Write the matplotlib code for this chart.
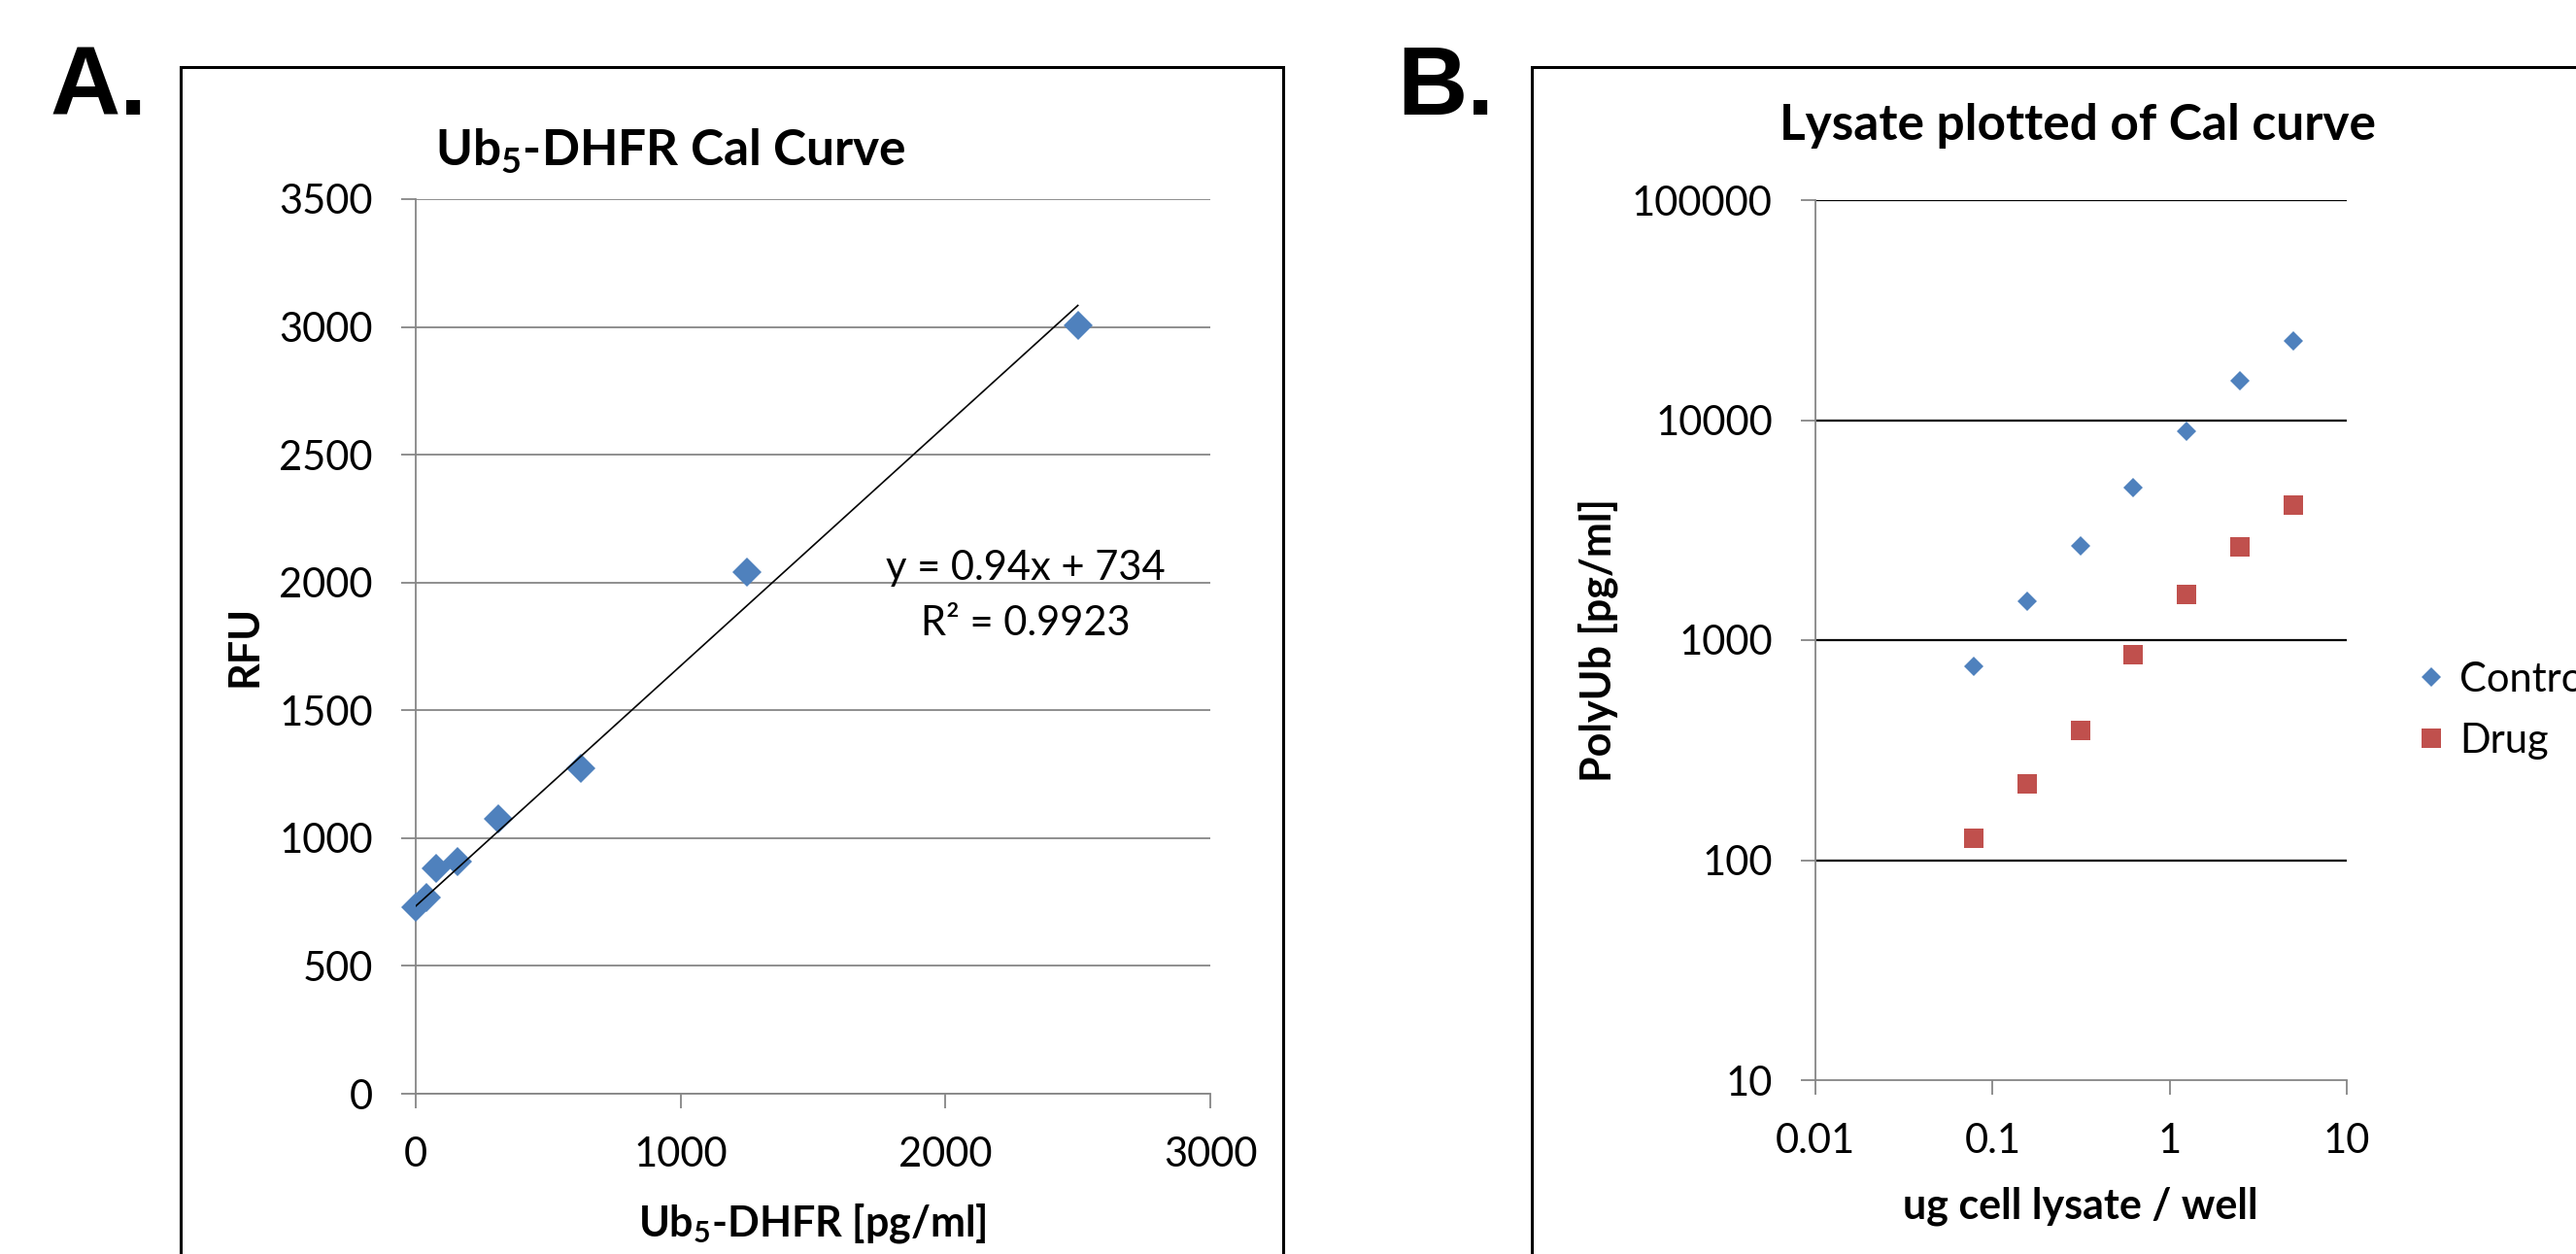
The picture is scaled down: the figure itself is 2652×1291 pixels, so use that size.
import matplotlib.pyplot as plt
from matplotlib.patches import Rectangle
from matplotlib.ticker import FixedLocator, NullLocator

plt.rcParams['font.family'] = ['Lato', 'DejaVu Sans']
plt.rcParams['mathtext.default'] = 'regular'

# --- Panel A: calibration curve ---
cal_conc = [0, 39, 78, 156, 312.5, 625, 1250, 2500]
cal_rfu = [730, 767, 882, 910, 1076, 1273, 2040, 3005]
fit_slope = 0.94
fit_intercept = 734
fit_r2 = 0.9923
fit_range = [0, 2500]

# --- Panel B: lysate on cal curve ---
lysate_ug = [0.078, 0.156, 0.3125, 0.625, 1.25, 2.5, 5]
control_pg = [760, 1506, 2687, 4930, 8920, 15170, 23000]
drug_pg = [126, 221, 388, 855, 1610, 2665, 4105]

a_xticks = [0, 1000, 2000, 3000]
a_yticks = [0, 500, 1000, 1500, 2000, 2500, 3000, 3500]
b_xticks = [0.01, 0.1, 1, 10]
b_xticklabels = ['0.01', '0.1', '1', '10']
b_yticks = [10, 100, 1000, 10000, 100000]
b_yticklabels = ['10', '100', '1000', '10000', '100000']

BLUE = '#4F81BD'
RED = '#C0504D'
GRAY = '#868686'

W, H = 2652, 1291
fig = plt.figure(figsize=(W / 100, H / 100), dpi=100)


def fx(px):
    return px / W


def fy(py):
    return 1 - py / H


def style_axes(ax):
    for s in ['top', 'right']:
        ax.spines[s].set_visible(False)
    for s in ['left', 'bottom']:
        ax.spines[s].set_color(GRAY)
        ax.spines[s].set_linewidth(1.3)
    ax.tick_params(which='major', direction='out', length=10.8, width=1.3,
                   color=GRAY, labelsize=30)
    ax.tick_params(axis='y', pad=21)
    ax.tick_params(axis='x', pad=21)
    ax.tick_params(which='minor', length=0)
    ax.set_axisbelow(True)


# frames around panels
fig.add_artist(Rectangle((fx(186), -0.1), fx(1321) - fx(186), fy(69) + 0.1,
                         transform=fig.transFigure, fill=False, lw=2.2, ec='black'))
fig.add_artist(Rectangle((fx(1577), -0.1), 0.5, fy(69) + 0.1,
                         transform=fig.transFigure, fill=False, lw=2.2, ec='black'))

# panel letters
fig.text(fx(52), fy(118), 'A.', fontsize=72, fontweight='bold',
         family='Liberation Sans', va='baseline', ha='left')
fig.text(fx(1438), fy(118), 'B.', fontsize=72, fontweight='bold',
         family='Liberation Sans', va='baseline', ha='left')

# ---------- Panel A ----------
axA = fig.add_axes([fx(428), fy(1126), fx(1246) - fx(428), fy(205) - fy(1126)])
style_axes(axA)
axA.set_xlim(0, 3000)
axA.set_ylim(0, 3500)
axA.set_xticks(a_xticks)
axA.set_yticks(a_yticks)
axA.grid(axis='y', color=GRAY, lw=1.3)
axA.plot(cal_conc, cal_rfu, 'D', color=BLUE, markersize=15, markeredgewidth=0,
         zorder=3, clip_on=False)
fit_y = [fit_slope * x + fit_intercept for x in fit_range]
axA.plot(fit_range, fit_y, color='black', lw=1.2, zorder=4)
axA.text(2303, 2056, f'y = {fit_slope}x + {fit_intercept}', fontsize=30,
         ha='center', va='center')
axA.text(2303, 1839, f'R\u00b2 = {fit_r2}', fontsize=30, ha='center', va='center')

fig.text(fx(690), fy(171), r'Ub$_5$-DHFR Cal Curve', fontsize=37,
         fontweight='bold', ha='center', va='baseline')
fig.text(fx(836), fy(1272), r'Ub$_5$-DHFR [pg/ml]', fontsize=31,
         fontweight='bold', ha='center', va='baseline')
fig.text(fx(252), fy(665), 'RFU', fontsize=31, fontweight='bold',
         rotation=90, ha='center', va='center')

# ---------- Panel B ----------
axB = fig.add_axes([fx(1869), fy(1112), fx(2416) - fx(1869), fy(206) - fy(1112)])
axB.set_xscale('log')
axB.set_yscale('log')
style_axes(axB)
axB.set_xlim(0.01, 10)
axB.set_ylim(10, 100000)
axB.xaxis.set_major_locator(FixedLocator(b_xticks))
axB.yaxis.set_major_locator(FixedLocator(b_yticks))
axB.xaxis.set_minor_locator(NullLocator())
axB.yaxis.set_minor_locator(NullLocator())
axB.set_xticklabels(b_xticklabels)
axB.set_yticklabels(b_yticklabels)
for yv in b_yticks[1:]:
    axB.axhline(yv, color='black', lw=1.6, zorder=1)
axB.plot(lysate_ug, control_pg, 'D', color=BLUE, markersize=10.2,
         markeredgewidth=0, label='Control', zorder=3)
axB.plot(lysate_ug, drug_pg, 's', color=RED, markersize=14.5,
         markeredgewidth=0, label='Drug', zorder=3)
axB.legend(loc='center left', bbox_to_anchor=(fx(2486), fy(731.5)),
           bbox_transform=fig.transFigure, frameon=False, fontsize=30,
           handlelength=0.8, handletextpad=0.3, labelspacing=0.6,
           borderpad=0, borderaxespad=0, markerscale=1.0)

fig.text(fx(2139), fy(144), 'Lysate plotted of Cal curve', fontsize=37,
         fontweight='bold', ha='center', va='baseline')
fig.text(fx(2142), fy(1255), 'ug cell lysate / well', fontsize=31,
         fontweight='bold', ha='center', va='baseline')
fig.text(fx(1645), fy(659), 'PolyUb [pg/ml]', fontsize=31, fontweight='bold',
         rotation=90, ha='center', va='center')

fig.savefig('out.png', dpi=100)
